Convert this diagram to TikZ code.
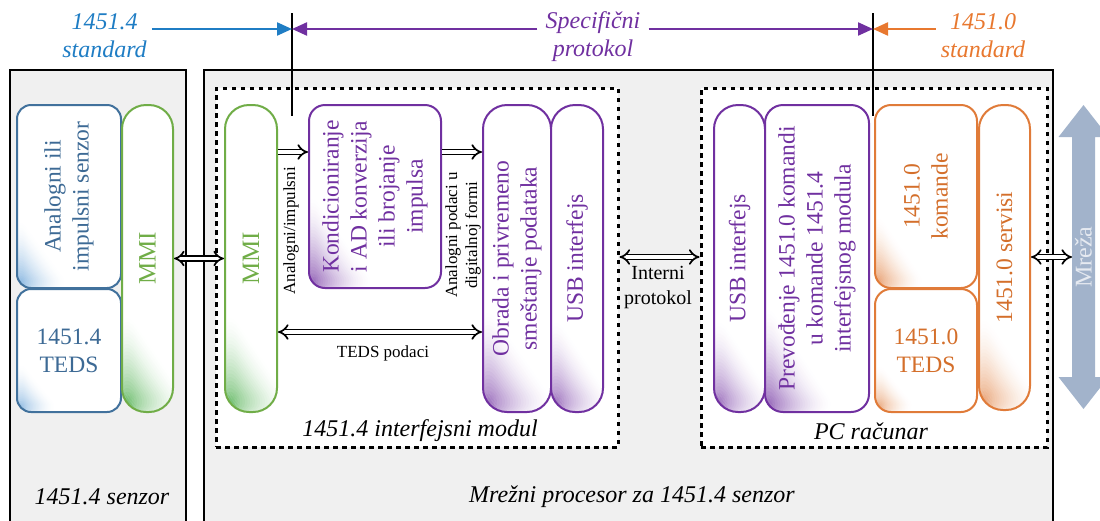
\documentclass[tikz,border=0pt]{standalone}
\usepackage{fontspec}
\setmainfont{Liberation Serif}
\usetikzlibrary{arrows.meta}
\definecolor{cblue}{HTML}{41719C}
\definecolor{cbluet}{HTML}{3D6A95}
\definecolor{cbluegrad}{HTML}{5B9BD5}
\definecolor{cgreen}{HTML}{70AD47}
\definecolor{cgreengrad}{HTML}{2CA02C}
\definecolor{cpurple}{HTML}{7030A0}
\definecolor{corange}{HTML}{E07B39}
\definecolor{coranget}{HTML}{D46F2B}
\definecolor{topblue}{HTML}{1F7DC4}
\definecolor{torange}{HTML}{E8782F}
\definecolor{outerfill}{HTML}{F0F0F0}
\definecolor{netcol}{HTML}{A2B3CB}
\definecolor{nettext}{HTML}{E6EAF1}
\tikzset{
  grad/.style n args={3}{path picture={
    \foreach \i in {0,...,29}{
      \pgfmathsetmacro\gA{#2*(1-\i/30)}
      \pgfmathsetmacro\gB{#3*(1-\i/30)}
      \pgfmathsetmacro\gP{85*(\i/29)^1.6}
      \fill[#1!\gP!white] (path picture bounding box.south west) -- ++(0,-\gA) -- ++(\gB,\gA) -- cycle;
    }}},
  rbox/.style={draw=#1, line width=2pt, fill=white, inner sep=0pt},
  btxt/.style={text=#1, font=\fontsize{23.5}{28}\selectfont, align=center, inner sep=0pt},
  stxt/.style={font=\fontsize{17}{20}\selectfont, align=center, inner sep=0pt},
  itxt/.style={text=#1, font=\fontsize{24}{28}\selectfont\itshape, align=center, inner sep=5pt},
  outer/.style={draw=black, line width=2.4pt, fill=outerfill},
  dbox/.style={draw=black, line width=3pt, dash pattern=on 4.5pt off 4.5pt, fill=white, inner sep=0pt},
  dbl/.style={double=white, double distance=3.5pt, line width=1.7pt},
  toparrow/.style={line width=2.2pt, -{Triangle[length=15pt,width=13pt]}},
}
\begin{document}
\begin{tikzpicture}[x=1pt,y=-1pt]
\useasboundingbox (0,0) rectangle (1100,520);
% outer boxes
\path[outer] (10,70) rectangle (186,535);
\path[outer] (204,70) rectangle (1053,535);
% dashed boxes
\node[dbox, minimum width=402, minimum height=359] (dm) at (417,267.5) {};
\node[dbox, minimum width=346, minimum height=359] (dpc) at (874,267.5) {};
% sensor side
\node[rbox=cblue, rounded corners=14pt, grad={cbluegrad}{75}{55}, minimum width=104, minimum height=183] (ansen) at (69,196.5) {};
\node[btxt=cbluet, rotate=90] (ansen-t) at (ansen) {Analogni ili\\impulsni senzor};
\node[rbox=cblue, rounded corners=14pt, grad={cbluegrad}{55}{45}, minimum width=104, minimum height=123] (teds4) at (69,350.5) {};
\node[btxt=cbluet] (teds4-t) at (teds4) {1451.4\\TEDS};
\node[rbox=cgreen, rounded corners=24pt, grad={cgreengrad}{110}{75}, minimum width=51, minimum height=307] (mmiL) at (147.5,258.5) {};
\node[btxt=cgreen, rotate=90, font=\fontsize{25}{28}\selectfont] (mmiL-t) at (mmiL) {MMI};
% interface module
\node[rbox=cgreen, rounded corners=24pt, grad={cgreengrad}{110}{75}, minimum width=52, minimum height=307] (mmiR) at (251,258.5) {};
\node[btxt=cgreen, rotate=90, font=\fontsize{25}{28}\selectfont] (mmiR-t) at (mmiR) {MMI};
\node[rbox=cpurple, rounded corners=16pt, grad={cpurple}{100}{70}, minimum width=132, minimum height=183] (kond) at (375,196.5) {};
\node[btxt=cpurple, rotate=90] (kond-t) at (kond) {Kondicioniranje\\i AD konverzija\\ili brojanje\\impulsa};
\node[rbox=cpurple, rounded corners=24pt, grad={cpurple}{115}{80}, minimum width=68, minimum height=307] (obrada) at (517,258.5) {};
\node[btxt=cpurple, rotate=90] (obrada-t) at (obrada) {Obrada i privremeno\\smeštanje podataka};
\node[rbox=cpurple, rounded corners=24pt, grad={cpurple}{105}{70}, minimum width=52, minimum height=307] (usbL) at (577,258.5) {};
\node[btxt=cpurple, rotate=90] (usbL-t) at (usbL) {USB interfejs};
% PC
\node[rbox=cpurple, rounded corners=24pt, grad={cpurple}{105}{70}, minimum width=51, minimum height=307] (usbR) at (739.5,258.5) {};
\node[btxt=cpurple, rotate=90] (usbR-t) at (usbR) {USB interfejs};
\node[rbox=cpurple, rounded corners=18pt, grad={cpurple}{115}{75}, minimum width=104, minimum height=307] (prev) at (817,258.5) {};
\node[btxt=cpurple, rotate=90] (prev-t) at (prev) {Prevođenje 1451.0 komandi\\u komande 1451.4\\interfejsnog modula};
\node[rbox=corange, rounded corners=16pt, grad={corange}{80}{55}, minimum width=102, minimum height=183] (kom) at (926,196.5) {};
\node[btxt=coranget, rotate=90] (kom-t) at (kom) {1451.0\\komande};
\node[rbox=corange, rounded corners=16pt, grad={corange}{55}{45}, minimum width=102, minimum height=123] (teds0) at (926,350.5) {};
\node[btxt=coranget] (teds0-t) at (teds0) {1451.0\\TEDS};
\node[rbox=corange, rounded corners=24pt, grad={corange}{105}{70}, minimum width=51, minimum height=305] (serv) at (1004.5,257.5) {};
\node[btxt=coranget, rotate=90] (serv-t) at (serv) {1451.0 servisi};
% network arrow
\fill[netcol] (1083.5,105) -- (1108.5,137) -- (1095,137) -- (1095,377) -- (1108.5,377) -- (1083.5,409) -- (1058.5,377) -- (1072,377) -- (1072,137) -- (1058.5,137) -- cycle;
\coordinate (netL) at (1072,257);
\node[btxt=nettext, rotate=90, font=\fontsize{24}{28}\selectfont] (net-t) at (1083.5,257) {Mreža};
% internal connectors
\draw[dbl, {Implies}-{Implies}] (mmiL.east) -- (mmiR.west);
\draw[dbl, -{Implies}] (mmiR.east |- 0,152) -- (kond.west |- 0,152);
\draw[dbl, -{Implies}] (kond.east |- 0,152) -- (obrada.west |- 0,152);
\draw[dbl, {Implies}-{Implies}] (mmiR.east |- 0,332) -- (obrada.west |- 0,332);
\draw[dbl, {Implies}-{Implies}] (dm.east |- 0,257) -- (dpc.west |- 0,257);
\draw[dbl, {Implies}-{Implies}] (serv.east |- 0,257) -- (netL);
\node[stxt, rotate=90] (lab-ai) at (291,231) {Analogni/impulsni};
\node[stxt, rotate=90] (lab-ap) at (463,235) {Analogni podaci u\\digitalnoj formi};
\node[stxt] (lab-teds) at (383,353) {TEDS podaci};
\node[stxt, font=\fontsize{20}{25}\selectfont] (lab-ip) at (658,288) {Interni\\protokol};
% top markers
\coordinate (v1t) at (292,13);
\coordinate (v1b) at (292,116);
\coordinate (v2t) at (873,13);
\coordinate (v2b) at (873,116);
\draw[line width=2pt] (v1t) -- (v1b);
\draw[line width=2pt] (v2t) -- (v2b);
\node[itxt=topblue] (std4) at (104.5,36) {1451.4\\standard};
\node[itxt=cpurple, inner sep=8pt] (spec) at (593,37) {Specifični\\protokol};
\node[itxt=torange] (std0) at (983,36) {1451.0\\standard};
\draw[toparrow, topblue] (std4.east |- 0,29) -- (v1t |- 0,29);
\draw[toparrow, cpurple] (spec.west |- 0,29) -- (v1t |- 0,29);
\draw[toparrow, cpurple] (spec.east |- 0,29) -- (v2t |- 0,29);
\draw[toparrow, torange] (std0.west |- 0,29) -- (v2t |- 0,29);
% bottom labels
\node[itxt=black] (lab-dm) at (420,431) {1451.4 interfejsni modul};
\node[itxt=black] (lab-pc) at (871,431) {PC računar};
\node[itxt=black] (lab-sen) at (102,497) {1451.4 senzor};
\node[itxt=black] (lab-np) at (632,497) {Mrežni procesor za 1451.4 senzor};
\end{tikzpicture}
\end{document}
